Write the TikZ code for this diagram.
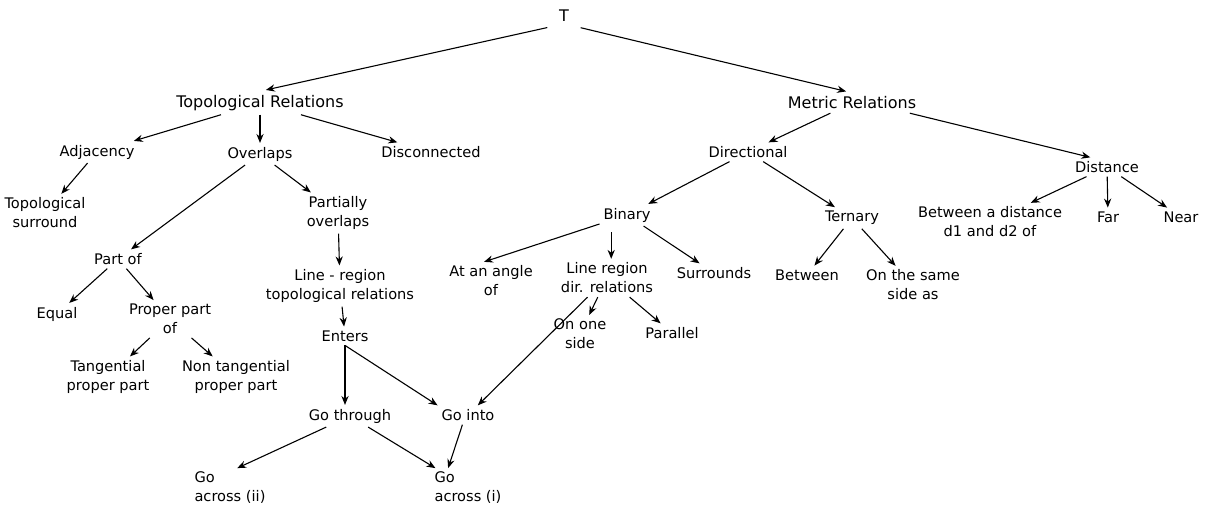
\documentclass[tikz,border=0pt]{standalone}
\usepackage{fontspec}
\setmainfont{DejaVu Sans}
\usepackage{tikz}
\usetikzlibrary{arrows.meta}
\tikzstyle{arrow} = [line width=0.55pt,-{Stealth[length=4.5pt,width=3.6pt]}]

\begin{document}
\begin{tikzpicture}[x=0.5pt, y=-0.5pt, lbl/.style={align=center, inner sep=1pt, outer sep=1pt, font=\fontsize{7.3}{9.5}\selectfont}, head/.style={lbl, font=\fontsize{8}{10}\selectfont}]
    \useasboundingbox (0,0) rectangle (1209,508);
    % root and the two main branches
    \node[head] (t) at (564,16) {T};
    \node[head] (top) at (260,103) {Topological Relations};
    \node[head] (met) at (852,103) {Metric Relations};
    % topological side
    \node[lbl] (adj) at (97,152) {Adjacency};
    \node[lbl] (ovl) at (260,154) {Overlaps};
    \node[lbl] (dis) at (431,152) {Disconnected};
    \node[lbl] (tsur) at (45,213) {Topological\\ surround};
    \node[lbl] (pov) at (338,213) {Partially\\ overlaps};
    \node[lbl] (pof) at (118,259) {Part of};
    \node[lbl] (lrt) at (340,286) {Line - region\\ topological relations};
    \node[lbl] (eq) at (57,314) {Equal};
    \node[lbl] (ppo) at (170,319) {Proper part\\ of};
    \node[lbl] (tpp) at (108,377) {Tangential\\ proper part};
    \node[lbl] (ntpp) at (236,377) {Non tangential\\ proper part};
    \node[lbl] (ent) at (345,336) {Enters};
    \node[lbl] (gth) at (350,416) {Go through};
    \node[lbl] (gin) at (468,415) {Go into};
    \node[lbl, align=left] (acii) at (230,488) {Go\\ across (ii)};
    \node[lbl, align=left] (aci) at (468,488) {Go\\ across (i)};
    % metric side
    \node[lbl] (dir) at (748,152) {Directional};
    \node[lbl] (dst) at (1107,167) {Distance};
    \node[lbl] (bin) at (627,215) {Binary};
    \node[lbl] (ter) at (852,218) {Ternary};
    \node[lbl] (ang) at (491,281) {At an angle\\ of};
    \node[lbl] (ldr) at (607,278) {Line region\\ dir. relations};
    \node[lbl] (sur) at (714,273) {Surrounds};
    \node[lbl] (btw) at (807,275) {Between};
    \node[lbl] (sss) at (913,285) {On the same\\ side as};
    \node[lbl] (bd) at (990,222) {Between a distance\\ d1 and d2 of};
    \node[lbl] (far) at (1108,217) {Far};
    \node[lbl] (nr) at (1181,217) {Near};
    \node[lbl] (one) at (580,334) {On one\\ side};
    \node[lbl] (par) at (672,333) {Parallel};
    % connectors
    \draw[arrow, shorten <=4pt, shorten >=3pt] (t.south west) -- (top.north);
    \draw[arrow, shorten <=4pt, shorten >=3pt] (t.south east) -- (met.north);
    \draw[arrow] (top) -- (adj); \draw[arrow] (top) -- (ovl); \draw[arrow] (top) -- (dis);
    \draw[arrow] (adj) -- (tsur);
    \draw[arrow] (ovl) -- (pof); \draw[arrow] (ovl) -- (pov);
    \draw[arrow] (pov) -- (lrt);
    \draw[arrow] (pof) -- (eq); \draw[arrow] (pof) -- (ppo);
    \draw[arrow] (ppo) -- (tpp); \draw[arrow] (ppo) -- (ntpp);
    \draw[arrow] (lrt) -- (ent);
    \draw[arrow] (ent.south) -- (ent.south |- gth.north);
    \draw[arrow] (ent.south) -- (gin.north west);
    \draw[arrow] (gth.-155) -- (acii.70); \draw[arrow] (gth) -- (aci);
    \draw[arrow] (gin.-120) -- (aci.135);
    \draw[arrow] (met) -- (dir); \draw[arrow] (met.-10) -- (dst.150);
    \draw[arrow] (dir) -- (bin); \draw[arrow] (dir) -- (ter);
    \draw[arrow] (bin) -- (ang.110); \draw[arrow, shorten <=3pt] (bin.-145) -- (bin.-145 |- ldr.north); \draw[arrow] (bin) -- (sur);
    \draw[arrow] (ldr) -- (one); \draw[arrow] (ldr) -- (par); \draw[arrow] (ldr) -- (gin);
    \draw[arrow] (ter) -- (btw); \draw[arrow] (ter) -- (sss);
    \draw[arrow] (dst) -- (bd); \draw[arrow] (dst) -- (far); \draw[arrow] (dst) -- (nr);
\end{tikzpicture}
\end{document}
